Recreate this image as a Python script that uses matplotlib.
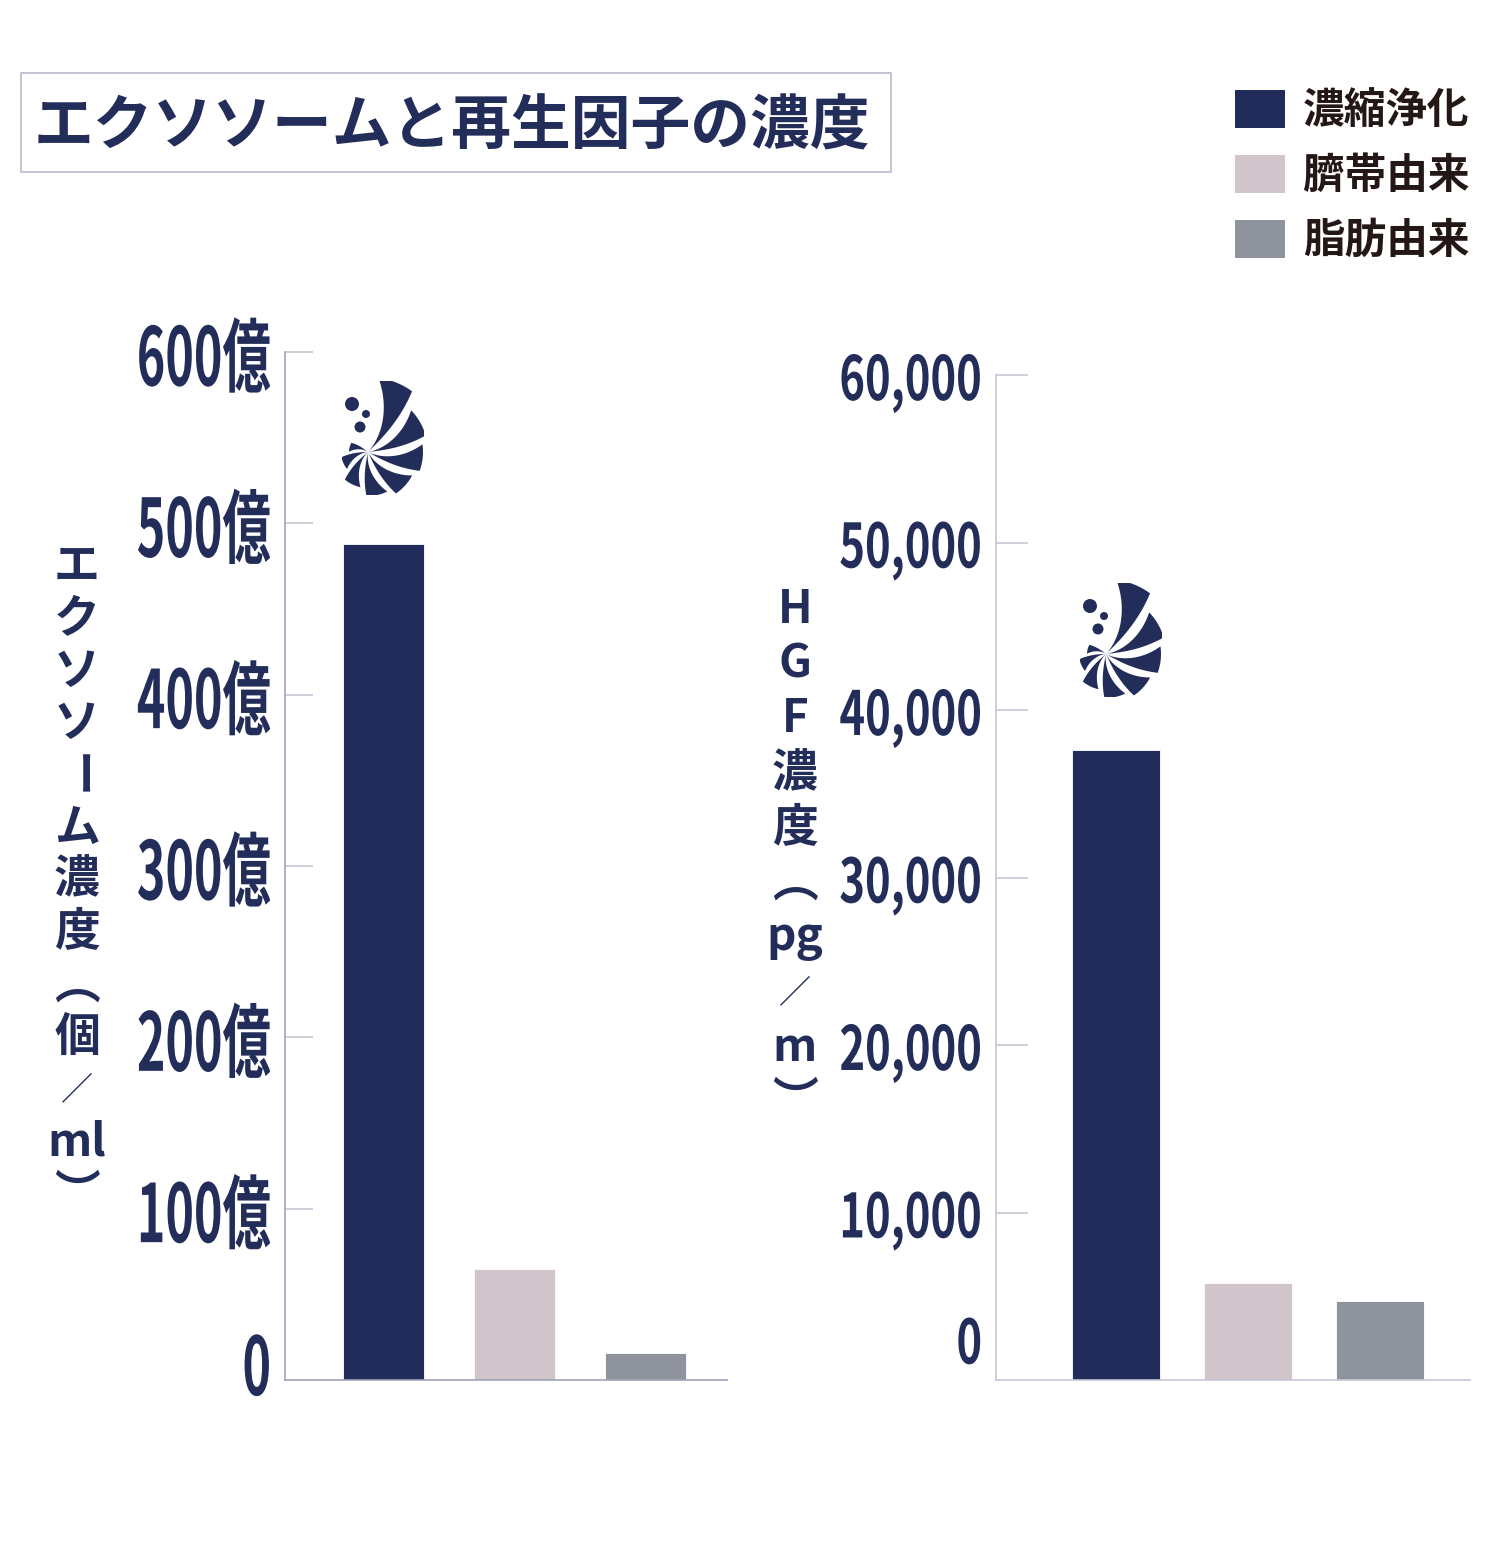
import numpy as np
import matplotlib.pyplot as plt
from matplotlib.patches import Rectangle, Polygon, Circle
from matplotlib.patheffects import AbstractPathEffect
from matplotlib.transforms import Affine2D, offset_copy

plt.rcParams['font.family'] = ['Noto Sans CJK JP', 'DejaVu Sans']

# data
sources = ['濃縮浄化', '臍帯由来', '脂肪由来']
colors = ['#212c5b', '#d1c4cb', '#8f939e']
exosome = [488, 65, 16]            # 億個/ml
hgf = [37600, 5800, 4700]          # pg/ml
exo_ticks = [0, 100, 200, 300, 400, 500, 600]
exo_labels = ['0', '100億', '200億', '300億', '400億', '500億', '600億']
hgf_ticks = [0, 10000, 20000, 30000, 40000, 50000, 60000]
hgf_labels = ['0', '10,000', '20,000', '30,000', '40,000', '50,000', '60,000']
title = 'エクソソームと再生因子の濃度'
exo_ylabel = ['エ', 'ク', 'ソ', 'ソ', 'ー', 'ム', '濃', '度', '︵', '個', '／', 'ml', '︶']
hgf_ylabel = ['H', 'G', 'F', '濃', '度', '︵', 'pg', '／', 'm', '︶']

navy = '#222d5a'
W, H = 1490, 1568
fig = plt.figure(figsize=(W / 100, H / 100), dpi=100)


def fx(px):
    return px / W


def fy(py):
    return 1 - py / H


class Squeeze(AbstractPathEffect):
    """condensed look: stretch glyphs upward, narrow them around a fixed x (display px)"""
    def __init__(self, sx, sy, x0, dy=0):
        super().__init__()
        self.sx = sx
        self.sy = sy
        self.x0 = x0
        self.dy = dy

    def draw_path(self, renderer, gc, tpath, affine, rgbFace=None):
        t = (Affine2D().scale(1, self.sy) + affine
             + Affine2D().translate(-self.x0, -self.dy).scale(self.sx, 1).translate(self.x0, 0))
        renderer.draw_path(gc, tpath, t, rgbFace)


def setup_axis(ax, values, ticks, labels, width, spine_col, tick_len, size, sx, sy, xr, dy, zero_up):
    x = np.arange(len(values))
    ax.bar(x, values, width=width, color=colors, edgecolor='white', linewidth=0.6)
    ax.set_ylim(ticks[0], ticks[-1])
    ax.set_yticks(ticks[1:])
    pe = [Squeeze(sx, sy, xr, dy)]
    ax.set_yticklabels(labels[1:], fontsize=size, fontweight='bold', path_effects=pe)
    ax.set_xticks([])
    for s in ['top', 'right']:
        ax.spines[s].set_visible(False)
    for s in ['left', 'bottom']:
        ax.spines[s].set_color(spine_col)
        ax.spines[s].set_linewidth(1.2)
    ax.tick_params(axis='y', direction='in', length=tick_len, width=1.3, color='#c9cbd9',
                   labelcolor=navy, pad=10)
    # zero label sits just above the base line without a tick
    tr = offset_copy(ax.get_yaxis_transform(), fig=fig, x=-(10 / 0.72), y=zero_up, units='dots')
    ax.text(0, 0, labels[0], transform=tr, ha='right', va='center', color=navy,
            fontsize=size, fontweight='bold', path_effects=pe)


# left: exosome
ax1 = fig.add_axes([fx(285), fy(1380), fx(727) - fx(285), fy(352) - fy(1380)])
setup_axis(ax1, exosome, exo_ticks, exo_labels, 0.62, '#a0a4ba', 20, 42, 0.83, 1.38, 271, 10, 12)
ax1.set_xlim(-0.752, 2.622)

# right: HGF
ax2 = fig.add_axes([fx(996), fy(1380), fx(1470) - fx(996), fy(375) - fy(1380)])
setup_axis(ax2, hgf, hgf_ticks, hgf_labels, 0.667, '#c5c8d6', 23, 36, 0.87, 1.22, 983, 5, 36)
ax2.set_xlim(-0.909, 2.682)


# vertical axis titles, one glyph per line
def vertical_label(chars, xc, y0, step, size):
    for i, ch in enumerate(chars):
        rot = -90 if ch == 'ー' else 0
        kw = dict(fontsize=size, fontweight='bold')
        if ch == '／':
            kw = dict(fontsize=size * 0.7, fontweight='normal')
        fig.text(fx(xc), fy(y0 + i * step), ch, ha='center', va='center', rotation=rot,
                 color=navy, **kw)


vertical_label(exo_ylabel, 77, 567, 52.3, 33)
vertical_label(hgf_ylabel, 795, 610, 54.7, 33)

# title box
fig.patches.append(Rectangle((fx(21), fy(172)), fx(891) - fx(21), fy(73) - fy(172),
                             transform=fig.transFigure, facecolor='white',
                             edgecolor='#b8bccb', linewidth=1.2))
fig.text(fx(452), fy(128), title, ha='center', va='center', fontsize=43, fontweight='bold',
         color=navy)

# legend
for i, (lab, col) in enumerate(zip(sources, colors)):
    top = 90 + i * 65
    fig.patches.append(Rectangle((fx(1235), fy(top + 38)), fx(50), 38 / H,
                                 transform=fig.transFigure, facecolor=col, edgecolor='none'))
    fig.text(fx(1303), fy(top + 21), lab, ha='left', va='center', fontsize=30,
             fontweight='bold', color='#231815')

# shell logo above the first bar of each panel
blade_tips = [68, 30, -6, -42, -78, -116, -155, 165]
blade_rad = [75, 60, 55, 50, 44, 36, 27, 19]


def draw_logo(x0, y0, w, h):
    lax = fig.add_axes([fx(x0), fy(y0 + h), w / W, h / H])
    lax.set_xlim(0, 82)
    lax.set_ylim(0, 114)
    lax.axis('off')
    cx, cy = 26, 43
    hw, bend = np.radians(14), np.radians(22)
    for ang, rad in zip(blade_tips, blade_rad):
        a = np.radians(ang)
        t = np.linspace(0, 1, 25)
        e1 = a - bend * (1 - t) - hw * t ** 0.6
        e2 = a - bend * (1 - t) + hw * t ** 0.6
        arc = np.linspace(a - hw, a + hw, 10)
        r = rad * t
        xs = np.concatenate([cx + r * np.cos(e1), cx + rad * np.cos(arc), (cx + r * np.cos(e2))[::-1]])
        ys = np.concatenate([cy + r * np.sin(e1), cy + rad * np.sin(arc), (cy + r * np.sin(e2))[::-1]])
        lax.add_patch(Polygon(np.column_stack([xs, ys]), closed=True, color=navy, lw=0))
    for (dx, dy, dr) in [(10, 91, 7), (24, 81, 4), (18, 68, 5.5)]:
        lax.add_patch(Circle((dx, dy), dr, color=navy, lw=0))


draw_logo(342, 381, 82, 114)
draw_logo(1080, 583, 82, 114)

fig.savefig('out.png', dpi=100, facecolor='white')
